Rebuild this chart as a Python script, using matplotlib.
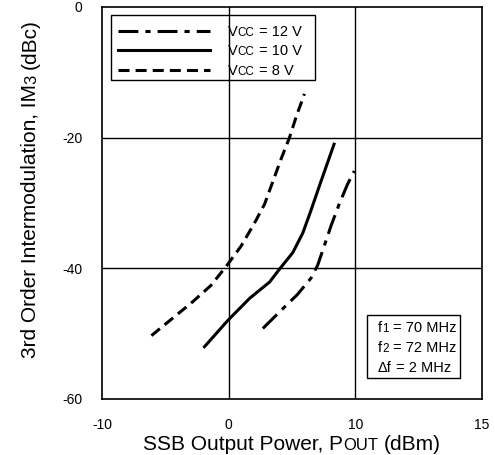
import numpy as np
import matplotlib
matplotlib.use("Agg")
import matplotlib.pyplot as plt
from matplotlib.transforms import offset_copy
from matplotlib.patches import Rectangle

plt.rcParams['font.family'] = ['Liberation Sans', 'DejaVu Sans']

# data (x = SSB output power dBm, y = IM3 dBc)
vcc8_x = [-6.1, -4.4, -2.83, -1.39, -0.08, 0.98, 2.03, 2.83, 3.49, 4.15, 4.8, 5.33, 5.98]
vcc8_y = [-50.3, -47.6, -45.1, -42.6, -39.4, -36.6, -33.1, -30.2, -26.7, -23.2, -20.0, -16.8, -13.3]
vcc10_x = [-1.91, -0.08, 1.65, 3.23, 4.02, 5.06, 5.85, 6.45, 7.25, 8.32]
vcc10_y = [-52.0, -48.0, -44.6, -42.1, -40.1, -37.6, -34.6, -31.4, -26.9, -21.0]
vcc12_x = [2.7, 4.0, 5.43, 6.5, 7.03, 7.56, 8.08, 8.74, 9.39, 9.92]
vcc12_y = [-49.2, -46.7, -44.0, -41.5, -39.5, -36.5, -33.5, -30.1, -27.1, -25.1]

x_ticks = [-10, 0, 10, 20]
x_tick_labels = ['-10', '0', '10', '15']
y_ticks = [0, -20, -40, -60]
y_tick_labels = ['0', '-20', '-40', '-60']

legend_vcc = ['12', '10', '8']
freq_lines = [('f', '1', ' = 70 MHz'), ('f', '2', ' = 72 MHz'), ('Δf', '', ' = 2 MHz')]

W, H = 495, 455
fig = plt.figure(figsize=(W / 100, H / 100), dpi=100)
ax = fig.add_axes([102 / W, 1 - 399 / H, 380 / W, 392 / H])

lw = 2.2
ax.plot(vcc12_x, vcc12_y, color='black', lw=lw, dashes=(6.5, 2.3, 1.7, 2.3))
ax.plot(vcc10_x, vcc10_y, color='black', lw=lw)
ax.plot(vcc8_x, vcc8_y, color='black', lw=lw, dashes=(3.6, 2.0))

ax.set_xlim(-10, 20)
ax.set_ylim(-60, 0)
ax.set_xticks(x_ticks)
ax.set_xticklabels(x_tick_labels)
ax.set_yticks(y_ticks)
ax.set_yticklabels(y_tick_labels)
ax.tick_params(length=0, labelsize=10, pad=14)
ax.tick_params(axis='x', pad=14)
for s in ax.spines.values():
    s.set_linewidth(1.2)
for v in [0, 10]:
    ax.axvline(v, color='black', lw=1.0, zorder=0)
for v in [-20, -40]:
    ax.axhline(v, color='black', lw=1.0, zorder=0)

renderer = fig.canvas.get_renderer()


def text_w(s, size):
    t = fig.text(0, 0, s, fontsize=size)
    w = t.get_window_extent(renderer).width
    t.remove()
    return w


def rich_text(x, y, parts, transform, rotation=0, center=False):
    # parts: list of (string, fontsize); drawn one after another on one baseline
    sizes = []
    for s, size in parts:
        lead = len(s) - len(s.lstrip(' '))
        sp = text_w('a a', size) - text_w('aa', size)
        sizes.append((lead * sp, text_w(s.strip(' '), size) if s.strip(' ') else 0))
    total = sum(a + b for a, b in sizes)
    off = -total / 2 if center else 0
    for (s, size), (lead, w) in zip(parts, sizes):
        off += lead
        dx, dy = (0, off) if rotation == 90 else (off, 0)
        tr = offset_copy(transform, fig=fig, x=dx, y=dy, units='dots')
        if s.strip(' '):
            fig.text(x, y, s.strip(' '), fontsize=size, transform=tr, rotation=rotation,
                     rotation_mode='anchor', ha='left', va='baseline')
        off += w


small = 0.8
# axis labels
lab = 15
rich_text(0.5 * (102 + 482) / W, 5 / H,
          [('SSB Output Power, P', lab), ('OUT', lab * small), (' (dBm)', lab)],
          fig.transFigure, center=True)
rich_text(36 / W, 1 - 189 / H,
          [('3rd Order Intermodulation, IM', lab), ('3', lab * small), (' (dBc)', lab)],
          fig.transFigure, rotation=90, center=True)

# legend box
ax.add_patch(Rectangle((0.0237, 0.8138), 0.5368, 0.1658, transform=ax.transAxes,
                       fill=False, edgecolor='black', lw=1.0, zorder=5))
row_y = [0.9388, 0.8903, 0.8393]
styles = [dict(dashes=(6.5, 2.3, 1.7, 2.3)), dict(), dict(dashes=(3.6, 2.0))]
leg = 10.5
for v, yy, st in zip(legend_vcc, row_y, styles):
    ax.plot([0.042, 0.284], [yy, yy], transform=ax.transAxes, color='black', lw=lw, **st)
    rich_text(0.3316, yy - 0.012, [('V', leg), ('CC', leg * small), (' = ' + v + ' V', leg)],
              ax.transAxes)

# conditions box
ax.add_patch(Rectangle((0.697, 0.0536), 0.245, 0.1607, transform=ax.transAxes,
                       fill=False, edgecolor='black', lw=1.0, zorder=5))
box = 10.5
for (a, b, c), yy in zip(freq_lines, [0.1837, 0.1327, 0.0816]):
    rich_text(0.726, yy - 0.012, [(a, box), (b, box * small), (c, box)], ax.transAxes)

fig.savefig('out.png', dpi=100)
